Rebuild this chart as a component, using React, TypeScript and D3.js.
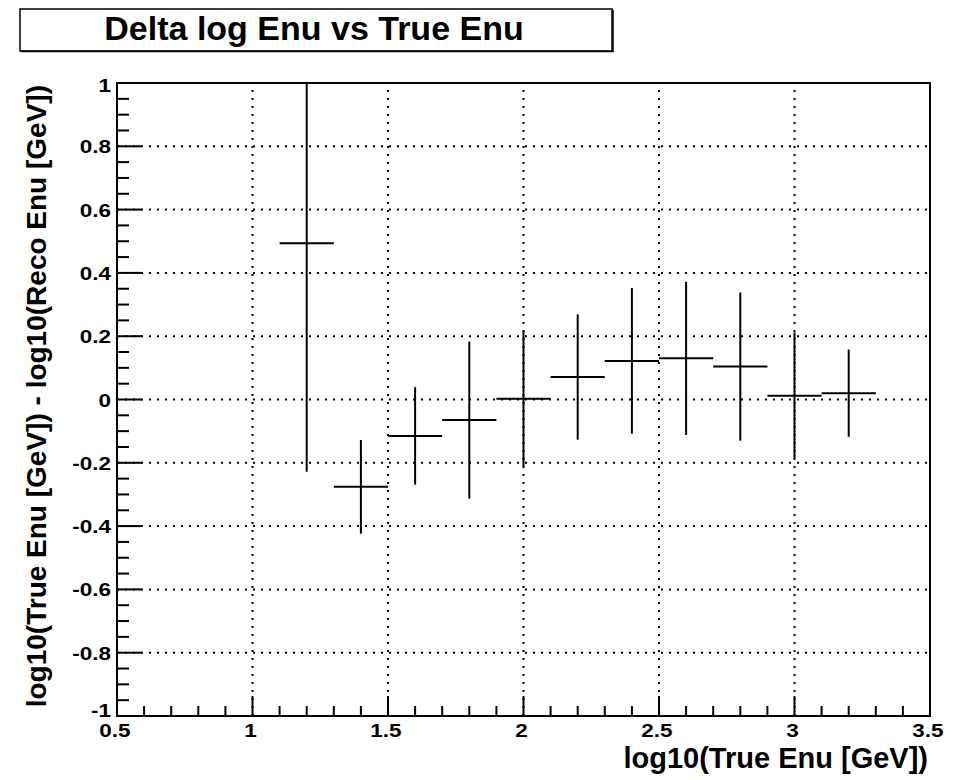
import React from "react";
import * as d3 from "d3";

// Bin centres of log10(True Enu [GeV]) and half-width of each bin
const binCenters = [1.2, 1.4, 1.6, 1.8, 2.0, 2.2, 2.4, 2.6, 2.8, 3.0, 3.2];
const binHalfWidth = 0.1;
// Mean delta log Enu per bin and its error
const deltaMeans = [0.494, -0.276, -0.115, -0.065, 0.002, 0.071, 0.122, 0.13, 0.104, 0.012, 0.02];
const deltaErrors = [0.722, 0.148, 0.154, 0.248, 0.216, 0.198, 0.23, 0.242, 0.234, 0.2, 0.138];

const xMajorTicks = [0.5, 1, 1.5, 2, 2.5, 3, 3.5];
const xTickLabels = ["0.5", "1", "1.5", "2", "2.5", "3", "3.5"];
const yMajorTicks = [-1, -0.8, -0.6, -0.4, -0.2, 0, 0.2, 0.4, 0.6, 0.8, 1];
const yTickLabels = ["-1", "-0.8", "-0.6", "-0.4", "-0.2", "0", "0.2", "0.4", "0.6", "0.8", "1"];

const titleText = "Delta log Enu vs True Enu";
const xAxisTitle = "log10(True Enu [GeV])";
const yAxisTitle = "log10(True Enu [GeV]) - log10(Reco Enu [GeV])";

const W = 959;
const H = 780;
const frame = { left: 117, right: 930, top: 83, bottom: 716 };
const FONT = "'Liberation Sans', Arial, Helvetica, sans-serif";
const LABEL_STRETCH = 1.25;

export default function App() {
  const x = d3.scaleLinear().domain([0.5, 3.5]).range([frame.left, frame.right]);
  const y = d3.scaleLinear().domain([-1, 1]).range([frame.bottom, frame.top]);

  const xMinor = d3.range(0.5, 3.5001, 0.1).map((v) => +v.toFixed(2));
  const yMinor = d3.range(-1, 1.0001, 0.05).map((v) => +v.toFixed(3));
  const isMajor = (v: number, step: number) => Math.abs(v / step - Math.round(v / step)) < 1e-6;

  const clampY = (v: number) => Math.max(-1, Math.min(1, v));
  // lowest y label is lifted so it clears the x labels below the corner
  const yLabelOffset = (v: number) => (v === -1 ? 1 : v === 1 ? 9 : 7);

  return (
    <svg
      width={W}
      height={H}
      viewBox={`0 0 ${W} ${H}`}
      style={{ position: "absolute", left: 0, top: 0, background: "#fff" }}
      fontFamily={FONT}
    >
      <rect x={0} y={0} width={W} height={H} fill="#fff" />

      {/* title box */}
      <rect x={20} y={9} width={592} height={42} fill="#fff" stroke="#000" strokeWidth={1.5} />
      <line x1={21} y1={51.5} x2={613.5} y2={51.5} stroke="#000" strokeWidth={1.5} />
      <line x1={613} y1={10} x2={613} y2={52} stroke="#000" strokeWidth={1.5} />
      <text x={314} y={40} textAnchor="middle" fontSize={34} fontWeight="bold">
        {titleText}
      </text>

      {/* grid */}
      <g stroke="#000" strokeWidth={2} strokeDasharray="2,6" fill="none">
        {xMajorTicks
          .filter((v) => v > 0.5 && v < 3.5)
          .map((v) => (
            <line key={`gx${v}`} x1={x(v)} x2={x(v)} y1={frame.bottom} y2={frame.top} />
          ))}
        {yMajorTicks
          .filter((v) => v > -1 && v < 1)
          .map((v) => (
            <line key={`gy${v}`} x1={frame.left} x2={frame.right} y1={y(v)} y2={y(v)} />
          ))}
      </g>

      {/* error bars */}
      <g stroke="#000" strokeWidth={2} fill="none">
        {binCenters.map((c, i) => (
          <g key={`p${i}`}>
            <line
              x1={x(c - binHalfWidth)}
              x2={x(c + binHalfWidth)}
              y1={y(deltaMeans[i])}
              y2={y(deltaMeans[i])}
            />
            <line
              x1={x(c)}
              x2={x(c)}
              y1={y(clampY(deltaMeans[i] - deltaErrors[i]))}
              y2={y(clampY(deltaMeans[i] + deltaErrors[i]))}
            />
          </g>
        ))}
      </g>

      {/* ticks */}
      <g stroke="#000" strokeWidth={2}>
        {xMinor.map((v) => {
          const len = isMajor(v, 0.5) ? 20 : 10;
          return <line key={`tx${v}`} x1={x(v)} x2={x(v)} y1={frame.bottom} y2={frame.bottom - len} />;
        })}
        {yMinor.map((v) => {
          const len = isMajor(v, 0.2) ? 25 : 12;
          return <line key={`ty${v}`} x1={frame.left} x2={frame.left + len} y1={y(v)} y2={y(v)} />;
        })}
      </g>

      {/* frame */}
      <rect
        x={frame.left}
        y={frame.top}
        width={frame.right - frame.left}
        height={frame.bottom - frame.top}
        fill="none"
        stroke="#000"
        strokeWidth={2}
      />

      {/* tick labels */}
      <g fontSize={18} fontWeight="bold" fill="#000">
        {xMajorTicks.map((v, i) => (
          <text
            key={`lx${v}`}
            transform={`translate(${x(v) - 2},${737}) scale(${LABEL_STRETCH},1)`}
            textAnchor="middle"
          >
            {xTickLabels[i]}
          </text>
        ))}
        {yMajorTicks.map((v, i) => (
          <text
            key={`ly${v}`}
            transform={`translate(${111},${y(v) + yLabelOffset(v)}) scale(${LABEL_STRETCH},1)`}
            textAnchor="end"
          >
            {yTickLabels[i]}
          </text>
        ))}
      </g>

      {/* axis titles */}
      <text x={928} y={768} textAnchor="end" fontSize={29} fontWeight="bold">
        {xAxisTitle}
      </text>
      <text
        transform={`translate(46,85) rotate(-90)`}
        textAnchor="end"
        fontSize={28}
        fontWeight="bold"
      >
        {yAxisTitle}
      </text>
    </svg>
  );
}
